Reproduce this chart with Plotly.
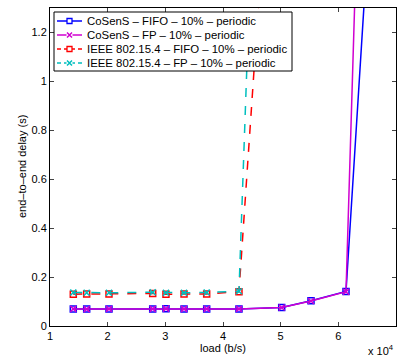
import plotly.graph_objects as go

# Data (load in b/s, delay in s)
load_cosens = [14040, 16360, 20230, 27810, 30110, 33240, 37170, 42770, 50180, 55260, 61330, 66000]
delay_cosens_fifo = [0.070, 0.070, 0.070, 0.070, 0.071, 0.070, 0.070, 0.070, 0.076, 0.103, 0.141, 1.89]
delay_cosens_fp = [0.070, 0.069, 0.070, 0.070, 0.071, 0.070, 0.070, 0.070, 0.076, 0.102, 0.140, 3.79]

load_ieee = [14040, 16360, 20230, 27810, 30110, 33240, 37170, 42770, 50180]
delay_ieee_fifo = [0.130, 0.131, 0.131, 0.133, 0.130, 0.131, 0.131, 0.140, 2.71]
delay_ieee_fp = [0.137, 0.136, 0.136, 0.138, 0.136, 0.136, 0.137, 0.142, 5.10]

names = ["CoSenS – FIFO – 10% – periodic",
         "CoSenS – FP – 10% – periodic",
         "IEEE 802.15.4 – FIFO – 10% – periodic",
         "IEEE 802.15.4 – FP – 10% – periodic"]

scale = 1e4
W, H = 399, 362
ML, MR, MT, MB = 50, 3, 8, 36
PW, PH = W - ML - MR, H - MT - MB


def px(x):
    return (x - ML) / PW


def py(y):
    return (H - MB - y) / PH


fig = go.Figure()
series = [
    (load_cosens, delay_cosens_fifo, "#0000FF", "solid", "square-open"),
    (load_cosens, delay_cosens_fp, "#D000D0", "solid", "x-thin-open"),
    (load_ieee, delay_ieee_fifo, "#FF0000", "dash", "square-open"),
    (load_ieee, delay_ieee_fp, "#00BFBF", "dash", "x-thin-open"),
]
for (xs, ys, col, dash, sym), nm in zip(series, names):
    fig.add_trace(go.Scatter(
        x=[v / scale for v in xs], y=ys, name=nm, mode="lines+markers",
        line=dict(color=col, width=1.5, dash=dash),
        marker=dict(symbol=sym, size=6, color=col, line=dict(color=col, width=1.5)),
        showlegend=False,
    ))

# Custom compact legend (MATLAB style)
shapes = [dict(type="rect", xref="paper", yref="paper", layer="above",
               x0=px(54), x1=px(292), y0=py(71), y1=py(12),
               fillcolor="white", line=dict(color="black", width=1))]
annotations = []
rows = [21, 35, 49, 63]
for (xs, ys, col, dash, sym), nm, ry in zip(series, names, rows):
    shapes.append(dict(type="line", xref="paper", yref="paper", layer="above",
                       x0=px(57), x1=px(82), y0=py(ry), y1=py(ry),
                       line=dict(color=col, width=1.5, dash="solid" if dash == "solid" else "4px,3px")))
    if sym.startswith("square"):
        shapes.append(dict(type="rect", xref="paper", yref="paper", layer="above",
                           xsizemode="pixel", ysizemode="pixel",
                           xanchor=px(69.5), yanchor=py(ry),
                           x0=-2.5, x1=2.5, y0=-2.5, y1=2.5,
                           fillcolor="white", line=dict(color=col, width=1.3)))
    else:
        shapes.append(dict(type="rect", xref="paper", yref="paper", layer="above",
                           xsizemode="pixel", ysizemode="pixel",
                           xanchor=px(69.5), yanchor=py(ry),
                           x0=-3, x1=3, y0=-3, y1=3,
                           fillcolor="white", line=dict(width=0)))
        shapes.append(dict(type="path", xref="paper", yref="paper", layer="above",
                           xsizemode="pixel", ysizemode="pixel",
                           xanchor=px(69.5), yanchor=py(ry),
                           path="M-2.5,-2.5 L2.5,2.5 M-2.5,2.5 L2.5,-2.5",
                           line=dict(color=col, width=1.5)))
    annotations.append(dict(text=nm, xref="paper", yref="paper", x=px(85), y=py(ry),
                            xanchor="left", yanchor="middle", showarrow=False,
                            font=dict(size=11.4)))

annotations.append(dict(text="end–to–end delay (s)", xref="paper", yref="paper",
                        x=px(22), y=py(167), xanchor="center", yanchor="middle",
                        textangle=-90, showarrow=False, font=dict(size=11)))
annotations.append(dict(text="x 10<sup>4</sup>", xref="paper", yref="paper",
                        x=px(396), y=py(350), xanchor="right", yanchor="middle",
                        showarrow=False, font=dict(size=11)))

font = dict(family="Liberation Sans, Arial, Helvetica, sans-serif", size=11, color="black")
fig.update_layout(
    width=W, height=H,
    margin=dict(l=ML, r=MR, t=MT, b=MB),
    paper_bgcolor="white", plot_bgcolor="white",
    font=font,
    showlegend=False,
    shapes=shapes,
    annotations=annotations,
    xaxis=dict(range=[1, 7], tickvals=[1, 2, 3, 4, 5, 6, 7], ticks="inside", ticklen=4,
               showline=True, linecolor="black", linewidth=1, mirror="ticks",
               showgrid=False, zeroline=False,
               title=dict(text="load (b/s)", font=dict(size=11), standoff=2)),
    yaxis=dict(range=[0, 1.3], tickvals=[0, 0.2, 0.4, 0.6, 0.8, 1.0, 1.2],
               ticktext=["0", "0.2", "0.4", "0.6", "0.8", "1", "1.2"],
               ticks="inside", ticklen=4,
               showline=True, linecolor="black", linewidth=1, mirror="ticks",
               showgrid=False, zeroline=False),
)
fig.write_html("out.html")
